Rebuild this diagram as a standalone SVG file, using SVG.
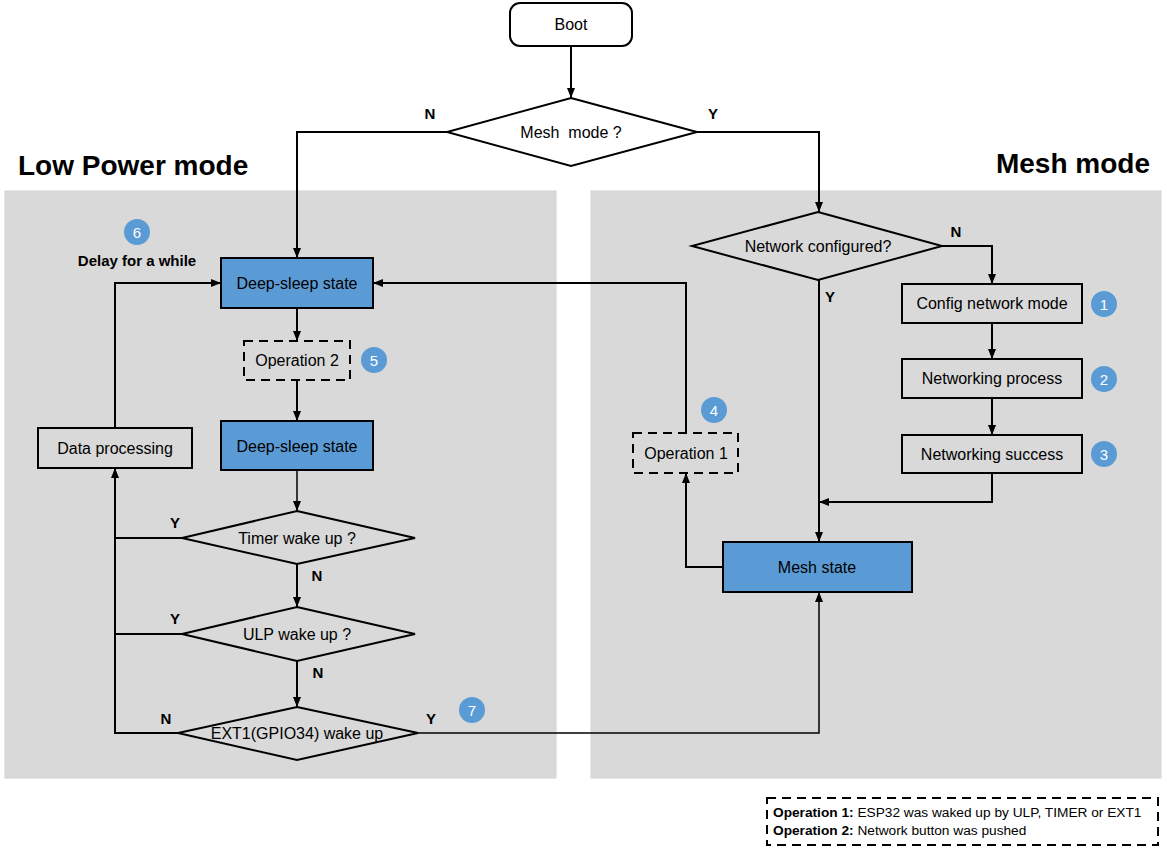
<svg xmlns="http://www.w3.org/2000/svg" width="1167" height="849" viewBox="0 0 1167 849">
  <style>
    .panel { fill: #d9d9d9; stroke: #cfd4da; stroke-width: 1; }
    .title { font-family: "Liberation Sans", Arial, sans-serif; font-weight: bold; font-size: 28px; fill: #000; }
    .box { fill: none; stroke: #000; stroke-width: 2; }
    .boxw { fill: #fff; stroke: #000; stroke-width: 2; }
    .blue { fill: #5b9bd5; stroke: #000; stroke-width: 2; }
    .dash { fill: none; stroke: #000; stroke-width: 2; stroke-dasharray: 9 6; }
    .lbl { font-family: "Liberation Sans", Arial, sans-serif; font-size: 16px; fill: #000; text-anchor: middle; dominant-baseline: central; }
    .yn { font-family: "Liberation Sans", Arial, sans-serif; font-size: 15px; font-weight: bold; fill: #000; text-anchor: middle; }
    .note { font-family: "Liberation Sans", Arial, sans-serif; font-size: 13.7px; fill: #000; }
    .num { fill: #5b9bd5; }
    .numt { font-family: "Liberation Sans", Arial, sans-serif; font-size: 15px; fill: #fff; text-anchor: middle; dominant-baseline: central; }
    .wire { fill: none; stroke: #000; stroke-width: 2; }
    .thin { fill: none; stroke: #000; stroke-width: 1.5; }
  </style>
  <defs>
    <marker id="arrow" viewBox="0 0 10 8" refX="10" refY="4" markerWidth="10" markerHeight="8" markerUnits="userSpaceOnUse" orient="auto">
      <path d="M0,0 L10,4 L0,8 z" fill="#000"/>
    </marker>
  </defs>

  <rect width="1167" height="849" fill="#fff"/>

  <!-- mode panels -->
  <g id="panel-low-power">
    <rect class="panel" x="5" y="191" width="551" height="587"/>
    <text class="title" x="18" y="175">Low Power mode</text>
  </g>
  <g id="panel-mesh">
    <rect class="panel" x="591" y="191" width="570" height="587"/>
    <text class="title" x="1150" y="173" text-anchor="end">Mesh mode</text>
  </g>

  <!-- connectors -->
  <g id="connectors">
    <path class="wire" d="M571,46 V98" marker-end="url(#arrow)"/>
    <path class="wire" d="M447,132 H297 V258" marker-end="url(#arrow)"/>
    <path class="wire" d="M697,132 H819 V212" marker-end="url(#arrow)"/>
    <path class="wire" d="M942,246 H992 V284" marker-end="url(#arrow)"/>
    <path class="wire" d="M992,323 V359" marker-end="url(#arrow)"/>
    <path class="wire" d="M992,398 V435" marker-end="url(#arrow)"/>
    <path class="wire" d="M992,473 V502 H819" marker-end="url(#arrow)"/>
    <path class="wire" d="M819,280 V542" marker-end="url(#arrow)"/>
    <path class="wire" d="M723,567 H686 V473" marker-end="url(#arrow)"/>
    <path class="wire" d="M686,433 V283 H373" marker-end="url(#arrow)"/>
    <path class="wire" d="M297,308 V341" marker-end="url(#arrow)"/>
    <path class="wire" d="M297,380 V421" marker-end="url(#arrow)"/>
    <path class="thin" d="M297,470 V511" marker-end="url(#arrow)"/>
    <path class="wire" d="M297,564 V607" marker-end="url(#arrow)"/>
    <path class="wire" d="M297,661 V707" marker-end="url(#arrow)"/>
    <path class="wire" d="M182,538 H115"/>
    <path class="wire" d="M182,634 H115"/>
    <path class="wire" d="M178,733 H115 V468" marker-end="url(#arrow)"/>
    <path class="wire" d="M115,428 V283 H221" marker-end="url(#arrow)"/>
    <path class="thin" d="M418,733 H819 V592" marker-end="url(#arrow)"/>

    <text class="yn" x="430" y="119">N</text>
    <text class="yn" x="713" y="119">Y</text>
    <text class="yn" x="956" y="237">N</text>
    <text class="yn" x="830" y="302">Y</text>
    <text class="yn" x="175" y="528">Y</text>
    <text class="yn" x="317" y="581">N</text>
    <text class="yn" x="175" y="624">Y</text>
    <text class="yn" x="318" y="678">N</text>
    <text class="yn" x="166" y="724">N</text>
    <text class="yn" x="431" y="724">Y</text>
  </g>

  <!-- top-level flow -->
  <g id="boot">
    <rect class="boxw" x="510" y="3" width="122" height="43" rx="10"/>
    <text class="lbl" x="571" y="24">Boot</text>
  </g>
  <g id="mesh-mode-check">
    <polygon class="boxw" points="571,98 697,132 571,166 447,132"/>
    <text class="lbl" x="571" y="132" xml:space="preserve">Mesh  mode ?</text>
  </g>

  <!-- low power branch -->
  <g id="deep-sleep-1">
    <rect class="blue" x="221" y="258" width="152" height="50"/>
    <text class="lbl" x="297" y="283">Deep-sleep state</text>
  </g>
  <g id="operation-2">
    <rect class="dash" x="244" y="341" width="106" height="39"/>
    <text class="lbl" x="297" y="360">Operation 2</text>
  </g>
  <g id="deep-sleep-2">
    <rect class="blue" x="221" y="421" width="152" height="49"/>
    <text class="lbl" x="297" y="446">Deep-sleep state</text>
  </g>
  <g id="data-processing">
    <rect class="box" x="38" y="428" width="154" height="40"/>
    <text class="lbl" x="115" y="448">Data processing</text>
  </g>
  <g id="timer-check">
    <polygon class="box" points="297,511 415,538 297,564 182,538"/>
    <text class="lbl" x="297" y="538">Timer wake up ?</text>
  </g>
  <g id="ulp-check">
    <polygon class="box" points="297,607 415,634 297,661 182,634"/>
    <text class="lbl" x="297" y="634">ULP wake up ?</text>
  </g>
  <g id="ext1-check">
    <polygon class="box" points="297,707 418,733 297,760 178,733"/>
    <text class="lbl" x="297" y="733">EXT1(GPIO34) wake up</text>
  </g>
  <g id="delay-note">
    <text class="yn" x="137" y="266" font-size="12.5">Delay for a while</text>
  </g>

  <!-- mesh branch -->
  <g id="network-check">
    <polygon class="box" points="818,212 942,246 818,280 692,246"/>
    <text class="lbl" x="818" y="246">Network configured?</text>
  </g>
  <g id="config-network">
    <rect class="box" x="902" y="284" width="180" height="39"/>
    <text class="lbl" x="992" y="303">Config network mode</text>
  </g>
  <g id="networking-process">
    <rect class="box" x="902" y="359" width="180" height="39"/>
    <text class="lbl" x="992" y="378">Networking process</text>
  </g>
  <g id="networking-success">
    <rect class="box" x="902" y="435" width="180" height="38"/>
    <text class="lbl" x="992" y="454">Networking success</text>
  </g>
  <g id="mesh-state">
    <rect class="blue" x="723" y="542" width="189" height="50"/>
    <text class="lbl" x="817" y="567">Mesh state</text>
  </g>
  <g id="operation-1">
    <rect class="dash" x="633" y="433" width="105" height="40"/>
    <text class="lbl" x="686" y="453">Operation 1</text>
  </g>

  <!-- step badges -->
  <g id="step-1"><circle class="num" cx="1104" cy="304" r="13"/><text class="numt" x="1104" y="304">1</text></g>
  <g id="step-2"><circle class="num" cx="1104" cy="379" r="13"/><text class="numt" x="1104" y="379">2</text></g>
  <g id="step-3"><circle class="num" cx="1104" cy="454" r="13"/><text class="numt" x="1104" y="454">3</text></g>
  <g id="step-4"><circle class="num" cx="714" cy="410" r="13"/><text class="numt" x="714" y="410">4</text></g>
  <g id="step-5"><circle class="num" cx="374" cy="360" r="13"/><text class="numt" x="374" y="360">5</text></g>
  <g id="step-6"><circle class="num" cx="137" cy="232" r="13"/><text class="numt" x="137" y="232">6</text></g>
  <g id="step-7"><circle class="num" cx="472" cy="710" r="13"/><text class="numt" x="472" y="710">7</text></g>

  <!-- legend -->
  <g id="legend">
    <rect class="dash" x="767" y="798" width="391" height="47"/>
    <text class="note" x="773" y="817"><tspan font-weight="bold">Operation 1:</tspan> ESP32 was waked up by ULP, TIMER or EXT1</text>
    <text class="note" x="773" y="835"><tspan font-weight="bold">Operation 2:</tspan> Network button was pushed</text>
  </g>
</svg>
